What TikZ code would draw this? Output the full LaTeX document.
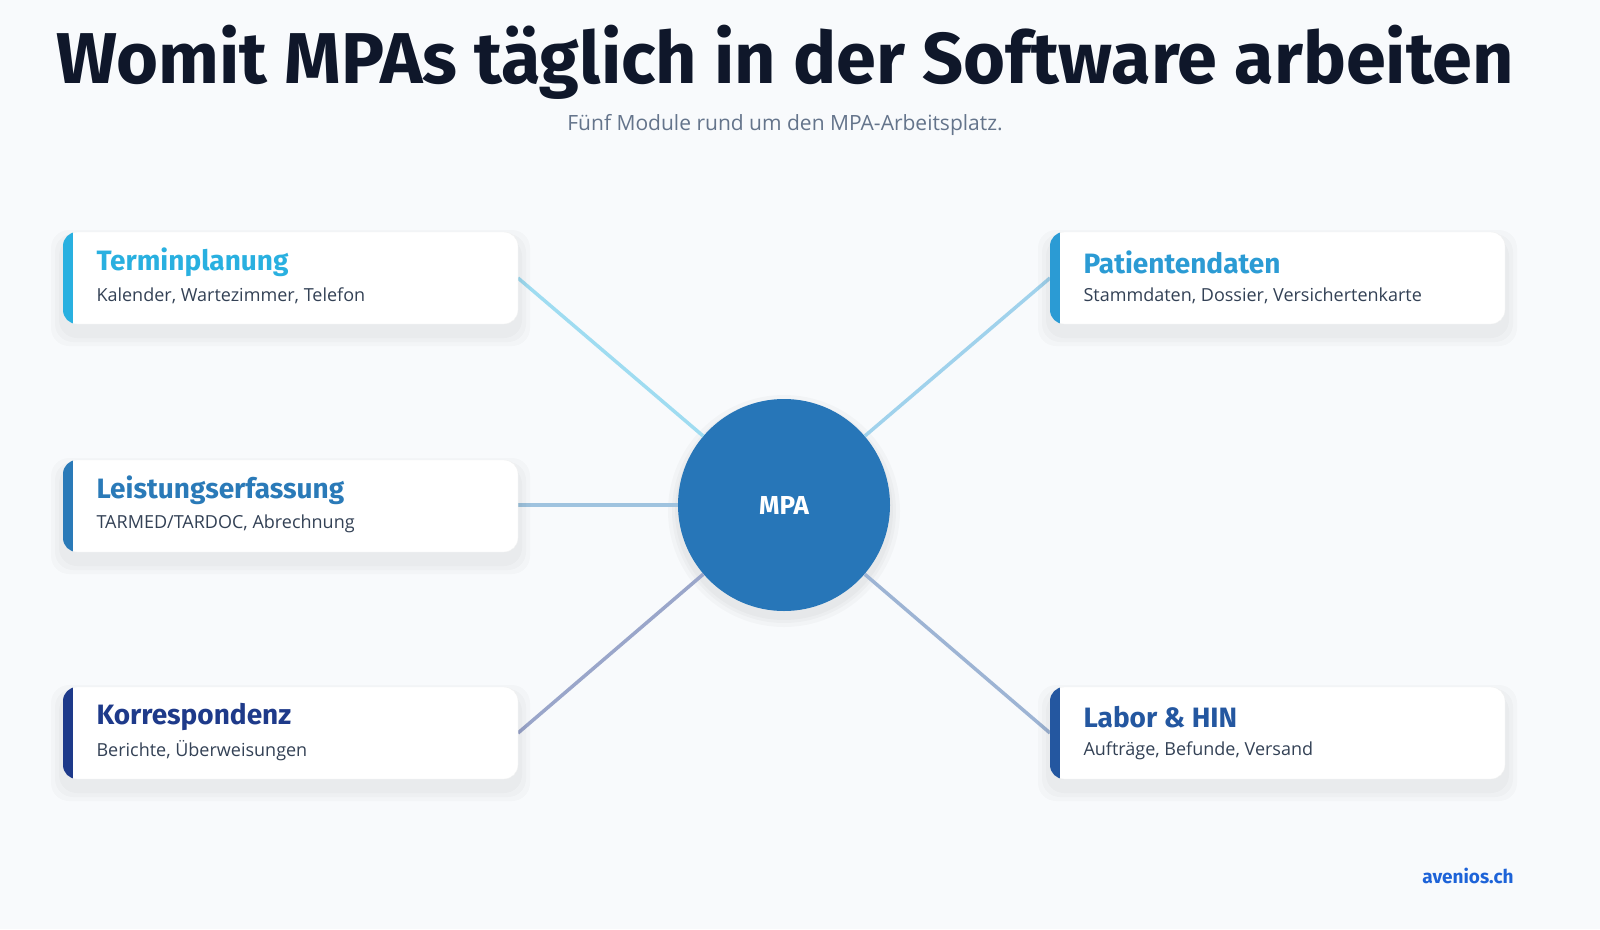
\documentclass[tikz,border=0pt]{standalone}
\usepackage{fontspec}
\setmainfont{Open Sans}
\newfontfamily\headfont{Fira Sans}
\usetikzlibrary{positioning}
\definecolor{bgpage}{RGB}{248,250,252}
\definecolor{titleink}{RGB}{15,23,42}
\definecolor{subink}{RGB}{100,116,139}
\definecolor{textink}{RGB}{51,65,85}
\definecolor{termcol}{RGB}{41,176,224}
\definecolor{leistcol}{RGB}{42,122,184}
\definecolor{korrcol}{RGB}{30,58,138}
\definecolor{patcol}{RGB}{43,155,212}
\definecolor{laborcol}{RGB}{36,87,160}
\definecolor{mpacol}{RGB}{39,118,184}
\definecolor{brandcol}{RGB}{29,99,216}
\begin{document}
\begin{tikzpicture}[x=1pt,y=-1pt,
    modul/.style={draw=gray!12, fill=white, rounded corners=14pt},
    softshade/.style={fill=black, opacity=0.018, rounded corners=18pt},
    heading/.style={font=\headfont\fontsize{28}{30}\selectfont\bfseries, anchor=west},
    detail/.style={font=\fontsize{18}{21}\selectfont, text=textink, anchor=west},
    link/.style={line width=3.5pt}
]

% Background
\fill[bgpage] (0,0) rectangle (1600,929);
\useasboundingbox (0,0) rectangle (1600,929);

% Title
\node[font=\headfont\fontsize{72}{78}\selectfont\bfseries, text=titleink] (title) at (785,62) {Womit MPAs täglich in der Software arbeiten};
\node[font=\fontsize{21}{24}\selectfont, text=subink] (subtitle) at (785,125) {Fünf Module rund um den MPA-Arbeitsplatz.};

% Centre
\foreach \r in {116,112,109}
  \fill[black, opacity=0.025] (784,511) circle (\r);
\node[circle, fill=mpacol, minimum size=212pt, inner sep=0pt, text=white, font=\headfont\fontsize{26}{30}\selectfont\bfseries] (mpa) at (784,505) {MPA};

% Connectors
\coordinate (termend) at (518,278);
\coordinate (leistend) at (518,505);
\coordinate (korrend) at (518,733);
\coordinate (patend) at (1050,278);
\coordinate (laborend) at (1050,733);
\draw[link, termcol!45] (termend) -- (mpa);
\draw[link, leistcol!45] (leistend) -- (mpa);
\draw[link, korrcol!45] (korrend) -- (mpa);
\draw[link, patcol!45] (patend) -- (mpa);
\draw[link, laborcol!45] (laborend) -- (mpa);

% Module boxes
\foreach \name/\col/\xa/\ya/\title/\sub in {
    term/termcol/63/232/Terminplanung/{Kalender, Wartezimmer, Telefon},
    leist/leistcol/63/460/Leistungserfassung/{TARMED/TARDOC, Abrechnung},
    korr/korrcol/63/687/Korrespondenz/{Berichte, Überweisungen},
    pat/patcol/1050/232/Patientendaten/{Stammdaten, Dossier, Versichertenkarte},
    labor/laborcol/1050/687/Labor \& HIN/{Aufträge, Befunde, Versand}} {
    \foreach \s in {12,8,4}
      \fill[softshade] (\xa-\s,\ya-\s+10) rectangle ++(455+2*\s,92+2*\s);
    \path[modul] (\xa,\ya) rectangle ++(455,92);
    \begin{scope}
      \clip[rounded corners=14pt] (\xa,\ya) rectangle ++(455,92);
      \fill[\col] (\xa,\ya) rectangle ++(10,92);
    \end{scope}
    \node[heading, text=\col] (\name head) at (\xa+30,\ya+30) {\title};
    \node[detail] (\name sub) at (\xa+30,\ya+64) {\sub};
}

% Brand
\node[font=\headfont\fontsize{19}{22}\selectfont\bfseries, text=brandcol] (brand) at (1468,876) {avenios.ch};

\end{tikzpicture}
\end{document}
